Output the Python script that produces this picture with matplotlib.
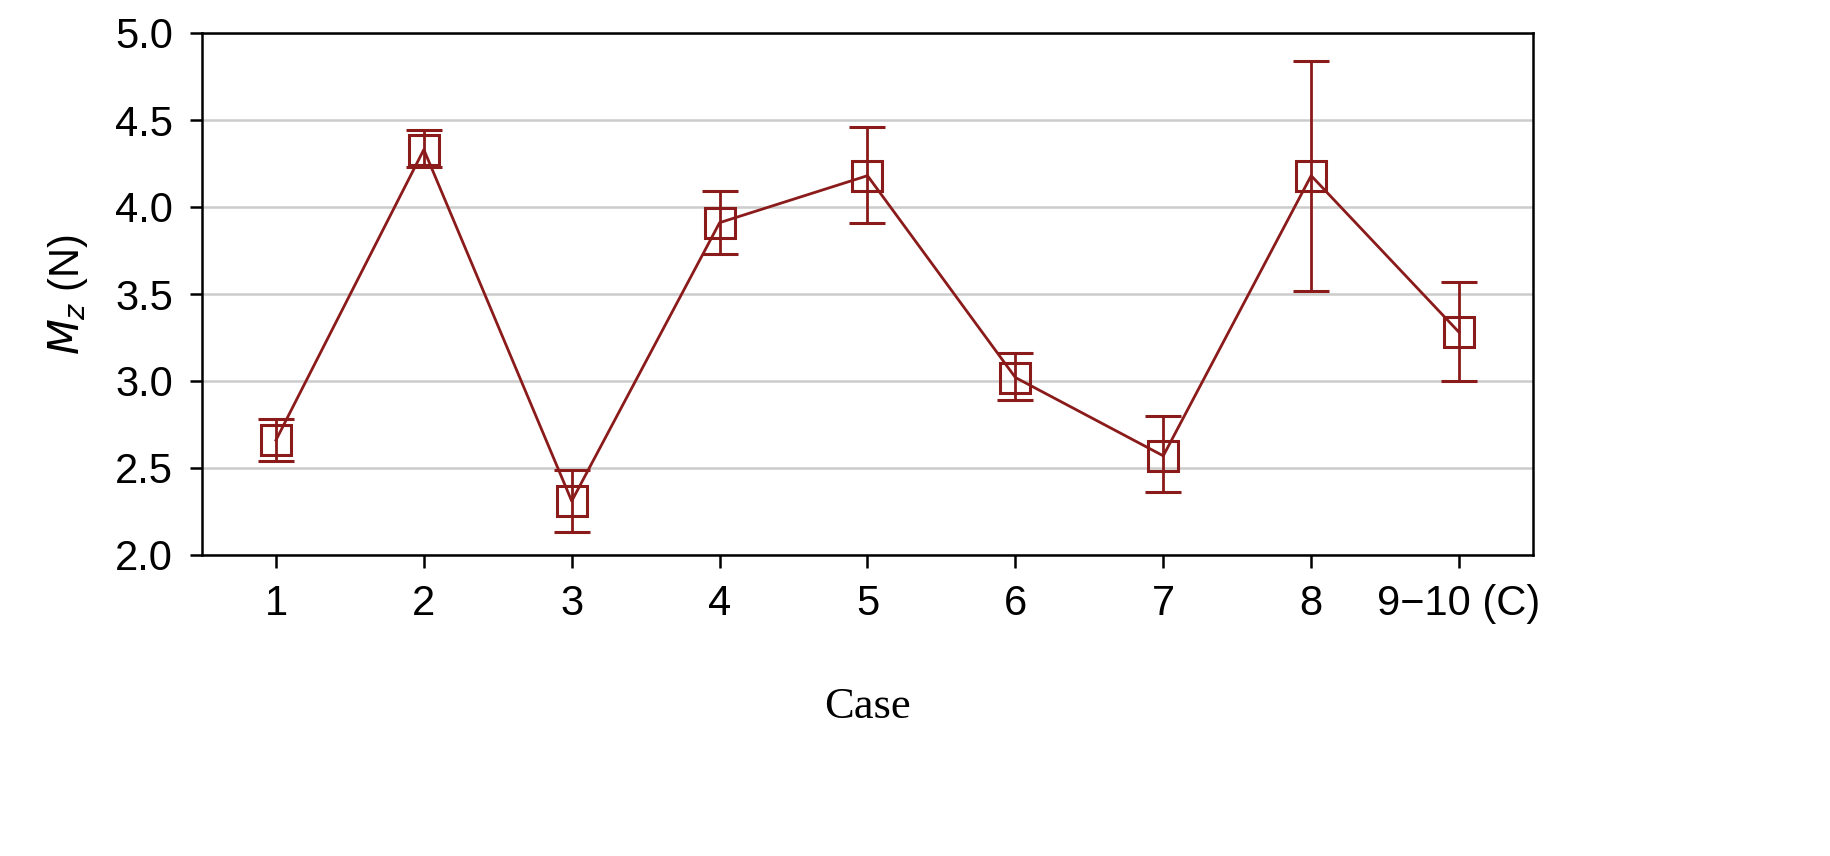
import matplotlib
matplotlib.use("Agg")
import matplotlib.pyplot as plt

cases = ["1", "2", "3", "4", "5", "6", "7", "8", "9\u221210 (C)"]
means = [2.66, 4.33, 2.31, 3.91, 4.18, 3.02, 2.57, 4.18, 3.28]
lower = [2.54, 4.23, 2.13, 3.73, 3.91, 2.89, 2.36, 3.52, 3.00]
upper = [2.78, 4.44, 2.49, 4.09, 4.46, 3.16, 2.80, 4.84, 3.57]

plt.rcParams['font.family'] = ['Liberation Sans', 'DejaVu Sans']
fig = plt.figure(figsize=(18.31, 8.56), dpi=100)
ax = fig.add_axes([202/1831, 1-555/856, (1533-202)/1831, (555-33)/856])
x = list(range(1, len(cases) + 1))
col = '#8B1A1A'
yerr = [[m - l for m, l in zip(means, lower)], [u - m for m, u in zip(means, upper)]]
ax.errorbar(x, means, yerr=yerr, color=col, lw=2, marker='s', ms=22, mfc='none',
            mec=col, mew=2.2, capsize=13, capthick=2, elinewidth=2, zorder=3)
ax.set_xlim(0.5, 9.5)
ax.set_ylim(2.0, 5.0)
ax.set_yticks([2.0, 2.5, 3.0, 3.5, 4.0, 4.5, 5.0])
ax.set_yticklabels([f"{v:.1f}" for v in [2.0, 2.5, 3.0, 3.5, 4.0, 4.5, 5.0]])
ax.set_xticks(x)
ax.set_xticklabels(cases)
ax.yaxis.grid(True, color='#cccccc', lw=1.8)
ax.set_axisbelow(True)
ax.tick_params(axis='both', labelsize=30, direction='out', length=9, width=1.8, pad=12)
for s in ax.spines.values():
    s.set_linewidth(1.8)
ax.set_ylabel("$M_z$ (N)", fontsize=30, labelpad=18)
ax.set_xlabel("Case", fontsize=32, family='Liberation Serif', labelpad=45)
fig.savefig("out.png", dpi=100)
